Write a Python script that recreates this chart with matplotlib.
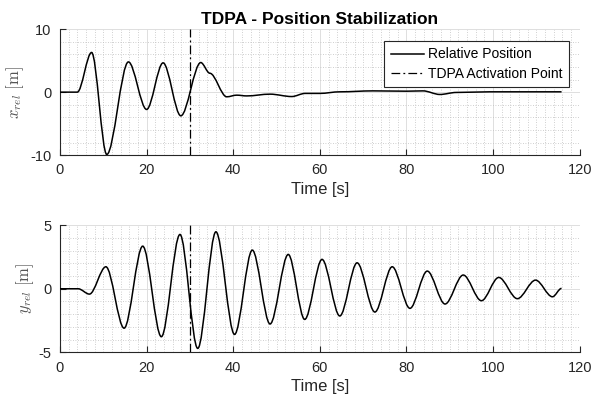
import matplotlib
matplotlib.use("Agg")
import matplotlib.pyplot as plt
from matplotlib.path import Path
from matplotlib.patches import PathPatch
from matplotlib.lines import Line2D
from matplotlib.ticker import MultipleLocator

# key points (local extrema), seconds / metres
t_x = [0, 4.0, 7.3, 10.8, 15.8, 20.0, 23.8, 27.9, 32.5, 34.6, 38.5, 40.8, 43.1, 48.5,
       53.5, 56.6, 60.0, 64.6, 72.3, 80.0, 83.8, 87.7, 91.5, 99.2, 115.8]
x_rel = [0, 0, 6.3, -9.9, 4.8, -2.75, 4.65, -3.76, 4.7, 3.0, -0.74, -0.48, -0.6, -0.32,
         -0.7, -0.2, -0.2, 0.05, 0.2, 0.15, 0.2, -0.37, -0.05, 0.05, 0.05]

t_y = [0, 4.2, 6.8, 10.6, 14.8, 19.1, 23.4, 27.7, 31.8, 36.0, 40.3, 44.4, 48.5, 52.7,
       56.5, 60.5, 64.6, 68.6, 72.7, 76.7, 80.8, 84.8, 88.9, 93.1, 97.3, 101.3, 105.6,
       109.8, 113.7, 115.8]
y_rel = [0, 0, -0.42, 1.73, -3.1, 3.35, -3.77, 4.27, -4.69, 4.48, -3.59, 3.04, -2.77, 2.7,
         -2.41, 2.31, -2.14, 2.04, -1.83, 1.73, -1.54, 1.39, -1.2, 1.08, -0.94, 0.89, -0.78,
         0.68, -0.63, 0.03]

t_activation = 30

plt.rcParams['font.family'] = ['Liberation Sans', 'DejaVu Sans']
plt.rcParams['mathtext.fontset'] = 'cm'
plt.rcParams['axes.unicode_minus'] = False

DARK = '#262626'
DASHDOT = (0, (7, 2.5, 1.5, 2.5))


def smooth_curve(ax, t, v, lw=1.1):
    # cubic bezier segments with flat tangents at every key point
    verts = [(t[0], v[0])]
    codes = [Path.MOVETO]
    for i in range(len(t) - 1):
        d = t[i + 1] - t[i]
        verts += [(t[i] + d / 3, v[i]), (t[i + 1] - d / 3, v[i + 1]), (t[i + 1], v[i + 1])]
        codes += [Path.CURVE4] * 3
    ax.add_patch(PathPatch(Path(verts, codes), fill=False, edgecolor='k', lw=lw,
                           transform=ax.transData, zorder=3))


def style_axes(ax, ylim, ymaj, ymin):
    ax.set_xlim(0, 120)
    ax.set_ylim(*ylim)
    ax.xaxis.set_major_locator(MultipleLocator(20))
    ax.xaxis.set_minor_locator(MultipleLocator(2))
    ax.yaxis.set_major_locator(MultipleLocator(ymaj))
    ax.yaxis.set_minor_locator(MultipleLocator(ymin))
    ax.grid(which='major', color='#dedede', lw=0.7)
    ax.grid(which='minor', color='#c0c0c0', lw=0.6, linestyle=(0, (1, 2)))
    ax.set_axisbelow(True)
    for s in ['top', 'right']:
        ax.spines[s].set_visible(False)
    for s in ['left', 'bottom']:
        ax.spines[s].set_color(DARK)
        ax.spines[s].set_linewidth(0.8)
    ax.tick_params(which='major', direction='in', length=4, color=DARK, labelcolor=DARK,
                   labelsize=10.5, pad=6)
    ax.tick_params(which='minor', length=0)
    ax.set_xlabel('Time [s]', fontsize=12, color=DARK, labelpad=3)
    ax.axvline(t_activation, color='k', lw=0.9, linestyle=DASHDOT, zorder=3)


fig = plt.figure(figsize=(5.94, 4.05), dpi=100)
ax1 = fig.add_axes([0.101, 0.617, 0.875, 0.311])
ax2 = fig.add_axes([0.101, 0.130, 0.875, 0.314])

style_axes(ax1, (-10, 10), 10, 2)
smooth_curve(ax1, t_x, x_rel)
ax1.set_ylabel(r'$x_{rel}\ [\mathrm{m}]$', fontsize=12, color='#555555')
ax1.yaxis.set_label_coords(-0.066, 0.5)
ax1.set_title('TDPA - Position Stabilization', fontsize=12.5, fontweight='bold', pad=4)

handles = [Line2D([], [], color='k', lw=1.1),
           Line2D([], [], color='k', lw=0.9, linestyle=DASHDOT)]
leg = ax1.legend(handles, ['Relative Position', 'TDPA Activation Point'], loc='upper right',
                 bbox_to_anchor=(0.979, 0.905), fontsize=10, fancybox=False, framealpha=1,
                 edgecolor=DARK, handlelength=2.4, borderpad=0.45, labelspacing=0.4,
                 handletextpad=0.3, borderaxespad=0)
leg.get_frame().set_linewidth(0.8)

style_axes(ax2, (-5, 5), 5, 1)
smooth_curve(ax2, t_y, y_rel)
ax2.set_ylabel(r'$y_{rel}\ [\mathrm{m}]$', fontsize=12, color='#555555')
ax2.yaxis.set_label_coords(-0.047, 0.5)

fig.savefig('out.png', dpi=100)
